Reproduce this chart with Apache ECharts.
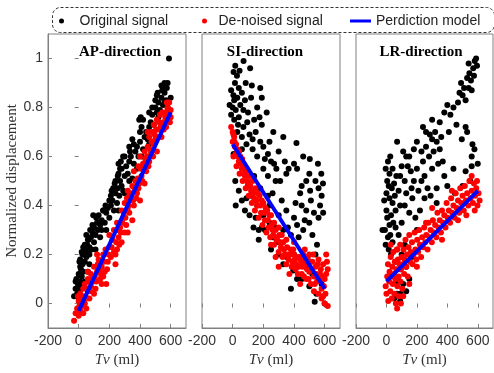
<!DOCTYPE html>
<html>
<head>
<meta charset="utf-8">
<script src="https://cdn.jsdelivr.net/npm/echarts@6/dist/echarts.min.js"></script>
<style>html,body{margin:0;padding:0;background:#fff}#c{width:494px;height:373px}</style>
</head>
<body>
<div id="c"></div>
<script>
// ---------- DATA ----------
const panelTitles = ['AP-direction', 'SI-direction', 'LR-direction'];
const xTickLabels = [-200, 0, 200, 400, 600];
const yTickLabels = [0, 0.2, 0.4, 0.6, 0.8, 1];

const apOriginal = [[-30,0.03],[-20,0.06],[-10,0.04],[-5,0.08],[0,0.02],[5,0.05],[-15,0.1],[0,0.12],[10,0.09],[15,0.14],[20,0.11],[25,0.16],[30,0.13],[10,0.18],[35,0.2],[40,0.17],[45,0.22],[50,0.19],[20,0.21],[55,0.24],[60,0.21],[65,0.26],[70,0.23],[80,0.27],[85,0.22],[90,0.29],[100,0.25],[100,0.31],[110,0.28],[120,0.33],[125,0.3],[130,0.36],[140,0.32],[150,0.34],[160,0.38],[170,0.33],[180,0.37],[190,0.39],[200,0.35],[210,0.4],[220,0.42],[230,0.38],[240,0.45],[250,0.41],[255,0.47],[265,0.44],[270,0.5],[280,0.48],[290,0.46],[300,0.52],[260,0.53],[280,0.55],[310,0.56],[320,0.53],[330,0.58],[340,0.6],[360,0.57],[370,0.62],[380,0.64],[390,0.6],[400,0.66],[420,0.63],[430,0.68],[440,0.7],[450,0.67],[460,0.72],[410,0.72],[420,0.75],[470,0.74],[480,0.77],[490,0.73],[500,0.8],[510,0.78],[520,0.82],[530,0.79],[540,0.84],[550,0.81],[560,0.86],[570,0.83],[575,0.88],[580,0.8],[590,0.78],[545,0.87],[555,0.89],[580,0.9],[589,1.0],[460,0.65],[350,0.51],[230,0.46],[140,0.27],[70,0.16],[30,0.07],
  [0,0.07],[-20,0.09],[10,0.15],[25,0.2],[5,0.17],[40,0.24],[30,0.23],[60,0.26],[50,0.28],[75,0.3],[90,0.32],[70,0.2],[115,0.35],[95,0.36],[160,0.38],[175,0.4],[200,0.42],[215,0.46],[150,0.3],[225,0.47],[235,0.49],[210,0.44],[240,0.5],[255,0.52],[270,0.55],[260,0.57],[275,0.58],[300,0.6],[290,0.6],[330,0.64],[350,0.67],[335,0.62],[360,0.65],[400,0.7],[395,0.75],[405,0.76],[460,0.78],[480,0.8],[500,0.83],[510,0.85],[515,0.86],[540,0.89],[560,0.9],[560,0.82],[600,0.84],[520,0.76],[20,0.01],[40,0.09],[60,0.13],[110,0.22],[180,0.3],[260,0.38],[300,0.45],[330,0.5],[380,0.55],[410,0.6],[470,0.66],[490,0.7]];
const apDenoised = [[-30,-0.07],[-20,-0.04],[-10,-0.02],[0,-0.05],[10,-0.03],[20,-0.01],[30,-0.04],[40,0.0],[50,-0.02],[0,0.01],[10,0.04],[20,0.02],[30,0.06],[45,0.03],[60,0.05],[70,0.02],[80,0.07],[100,0.04],[110,0.06],[40,0.08],[60,0.1],[80,0.12],[95,0.09],[120,0.13],[140,0.1],[150,0.15],[170,0.13],[180,0.08],[100,0.15],[130,0.18],[160,0.2],[190,0.17],[210,0.19],[240,0.16],[200,0.23],[220,0.26],[250,0.22],[260,0.27],[280,0.25],[300,0.29],[230,0.3],[250,0.33],[270,0.31],[290,0.35],[310,0.32],[330,0.37],[350,0.34],[280,0.38],[300,0.41],[320,0.39],[340,0.43],[360,0.4],[380,0.45],[400,0.42],[320,0.46],[350,0.48],[370,0.5],[390,0.47],[410,0.52],[430,0.49],[360,0.54],[390,0.56],[420,0.57],[440,0.54],[460,0.58],[400,0.6],[430,0.62],[450,0.64],[470,0.61],[490,0.65],[510,0.62],[460,0.68],[480,0.7],[500,0.67],[520,0.71],[540,0.68],[490,0.73],[510,0.75],[530,0.77],[550,0.74],[570,0.72],[560,0.78],[580,0.8],[590,0.76],[600,0.79],[575,0.82],[595,0.74],[450,0.7],[330,0.44],[200,0.28],[120,0.2],[60,0.13],[-5,0.03],
  [5,-0.01],[15,0.0],[25,0.03],[35,0.01],[55,0.06],[65,0.09],[75,0.05],[90,0.1],[105,0.11],[115,0.09],[125,0.16],[135,0.14],[145,0.12],[165,0.17],[175,0.22],[185,0.14],[195,0.2],[215,0.23],[230,0.21],[245,0.25],[255,0.3],[265,0.24],[275,0.29],[285,0.33],[295,0.37],[305,0.35],[315,0.43],[325,0.4],[345,0.45],[355,0.42],[365,0.47],[375,0.43],[385,0.51],[395,0.49],[405,0.55],[415,0.5],[425,0.55],[435,0.59],[445,0.6],[455,0.56],[465,0.63],[475,0.66],[485,0.6],[495,0.69],[505,0.71],[515,0.68],[525,0.74],[535,0.72],[545,0.78],[555,0.71],[565,0.76],[585,0.78],[590,0.82],[600,0.76],[150,0.08],[240,0.2],[160,0.11],[320,0.29]];
const apModel = [[0,-0.03],[600,0.78]];

const siOriginal = [[71,0.99],[17,0.97],[6,0.945],[28,0.93],[114,0.96],[45,0.95],[15,0.9],[40,0.88],[-10,0.87],[5,0.85],[30,0.84],[60,0.86],[80,0.83],[-20,0.81],[0,0.8],[20,0.79],[50,0.81],[120,0.84],[180,0.88],[190,0.84],[-10,0.77],[10,0.75],[40,0.76],[100,0.78],[160,0.8],[222,0.78],[140,0.75],[70,0.72],[30,0.7],[60,0.68],[110,0.69],[150,0.7],[190,0.73],[265,0.7],[90,0.65],[130,0.63],[180,0.66],[200,0.64],[230,0.61],[330,0.68],[416,0.655],[160,0.6],[250,0.58],[300,0.62],[270,0.57],[200,0.55],[6,0.61],[230,0.52],[280,0.5],[310,0.5],[350,0.53],[400,0.57],[460,0.6],[503,0.59],[420,0.55],[556,0.57],[578,0.53],[589,0.49],[450,0.48],[480,0.5],[500,0.53],[540,0.5],[560,0.47],[580,0.44],[450,0.4],[480,0.38],[510,0.42],[530,0.37],[560,0.35],[400,0.35],[350,0.38],[320,0.42],[260,0.45],[180,0.47],[140,0.52],[17,0.5],[100,0.48],[60,0.42],[20,0.4],[80,0.38],[150,0.35],[200,0.36],[240,0.4],[280,0.31],[330,0.3],[380,0.28],[420,0.32],[460,0.3],[520,0.28],[550,0.24],[136,0.31],[190,0.31],[170,0.26],[210,0.3],[260,0.27],[300,0.2],[352,0.19],[400,0.2],[330,0.16],[395,0.135],[450,0.1],[500,0.07],[546,0.04],[535,0.007],[600,0.0],[520,0.12],[580,0.08],[250,0.22],[120,0.44],
  [85,0.9],[125,0.89],[10,0.83],[70,0.79],[35,0.73],[95,0.74],[175,0.76],[240,0.66],[130,0.67],[60,0.63],[210,0.59],[285,0.55],[340,0.58],[365,0.55],[440,0.45],[505,0.46],[570,0.4],[590,0.37],[470,0.34],[410,0.41],[300,0.36],[230,0.44],[160,0.4],[90,0.43],[40,0.46],[110,0.36],[170,0.3],[240,0.33],[300,0.25],[360,0.31],[430,0.27],[500,0.33],[540,0.2],[480,0.16],[420,0.1],[380,0.06],[560,0.1]];
const siDenoised = [[-10,0.72],[0,0.7],[10,0.68],[0,0.66],[15,0.64],[20,0.61],[5,0.6],[30,0.63],[40,0.58],[25,0.56],[50,0.6],[60,0.55],[45,0.53],[70,0.57],[80,0.52],[65,0.5],[90,0.54],[100,0.49],[85,0.47],[110,0.52],[120,0.46],[105,0.44],[130,0.5],[140,0.43],[125,0.41],[150,0.47],[160,0.4],[145,0.38],[175,0.44],[185,0.37],[170,0.35],[200,0.41],[210,0.34],[195,0.32],[225,0.38],[235,0.31],[220,0.29],[250,0.36],[260,0.3],[245,0.27],[270,0.33],[285,0.26],[270,0.24],[300,0.31],[310,0.25],[300,0.21],[320,0.28],[335,0.22],[325,0.19],[350,0.26],[360,0.2],[350,0.16],[380,0.22],[390,0.17],[400,0.2],[410,0.14],[420,0.19],[430,0.15],[440,0.18],[450,0.12],[460,0.2],[470,0.16],[480,0.1],[490,0.19],[500,0.13],[510,0.08],[520,0.17],[530,0.11],[540,0.15],[550,0.09],[560,0.18],[570,0.12],[580,0.06],[590,0.16],[600,0.1],[610,0.2],[620,0.14],[560,0.04],[580,0.02],[600,0.0],[620,-0.01],[530,0.05],[450,0.17],[470,0.22],[400,0.25],[370,0.12],[440,0.08],[500,0.2],
  [5,0.69],[12,0.66],[22,0.65],[35,0.6],[42,0.62],[55,0.57],[62,0.59],[75,0.53],[82,0.55],[95,0.5],[115,0.48],[135,0.45],[155,0.42],[165,0.45],[180,0.4],[190,0.42],[205,0.37],[215,0.39],[230,0.34],[240,0.36],[255,0.32],[265,0.28],[280,0.3],[290,0.27],[305,0.28],[315,0.23],[330,0.25],[340,0.2],[355,0.23],[365,0.18],[375,0.2],[385,0.15],[395,0.22],[405,0.18],[415,0.16],[425,0.12],[435,0.19],[455,0.15],[465,0.11],[475,0.18],[485,0.14],[495,0.1],[505,0.17],[515,0.14],[525,0.2],[535,0.08],[545,0.12],[555,0.16],[565,0.1],[575,0.14],[585,0.11],[595,0.07],[605,0.04],[590,0.03],[610,0.12],[615,0.17],[300,0.15],[280,0.19],[250,0.24]];
const siModel = [[0,0.65],[600,0.06]];

const lrOriginal = [[589,1.0],[540,0.98],[595,0.97],[570,0.96],[575,0.93],[555,0.91],[530,0.92],[540,0.88],[560,0.87],[500,0.85],[520,0.83],[480,0.86],[470,0.82],[440,0.8],[400,0.81],[380,0.78],[300,0.75],[320,0.7],[240,0.72],[520,0.72],[530,0.7],[410,0.7],[360,0.68],[330,0.66],[300,0.67],[260,0.64],[230,0.62],[200,0.66],[180,0.63],[130,0.6],[70,0.66],[100,0.56],[140,0.56],[160,0.54],[200,0.55],[240,0.58],[280,0.6],[310,0.62],[350,0.63],[370,0.58],[250,0.52],[180,0.5],[120,0.5],[90,0.52],[40,0.55],[10,0.58],[20,0.53],[5,0.5],[50,0.49],[80,0.46],[130,0.45],[170,0.43],[210,0.46],[250,0.43],[290,0.44],[330,0.47],[520,0.54],[560,0.56],[500,0.48],[550,0.5],[0,0.45],[20,0.43],[40,0.41],[60,0.38],[30,0.36],[0,0.38],[90,0.4],[150,0.37],[190,0.35],[100,0.33],[60,0.31],[20,0.32],[-10,0.3],[-26,0.3],[10,0.27],[40,0.25],[80,0.28],[120,0.24],[30,0.2],[60,0.17],[90,0.14],[110,0.08],[70,0.04],[93,0.04],[50,0.02],[90,0.01],[150,0.1],[130,0.15],[220,0.38],[380,0.52],[450,0.45],
  [-5,0.55],[15,0.48],[25,0.6],[-15,0.42],[5,0.35],[35,0.47],[55,0.44],[45,0.33],[25,0.28],[-5,0.24],[15,0.22],[65,0.52],[110,0.62],[150,0.6],[120,0.4],[165,0.47],[230,0.5],[270,0.47],[300,0.55],[340,0.57],[260,0.7],[285,0.69],[350,0.74],[420,0.77],[460,0.73],[490,0.9],[510,0.88],[545,0.94],[580,0.99],[495,0.67],[560,0.6],[565,0.65],[578,0.63],[600,0.57],[440,0.55],[400,0.48],[330,0.41],[75,0.09],[130,0.05],[100,0.2],[165,0.19],[200,0.3]];
const lrDenoised = [[0,0.04],[5,0.11],[-5,0.07],[10,0.16],[12,0.01],[18,0.09],[20,0.13],[25,0.05],[28,0.19],[30,0.11],[35,0.02],[38,0.15],[42,0.08],[45,0.21],[48,0.12],[52,0.04],[55,0.17],[58,0.1],[62,0.0],[65,0.14],[68,0.22],[72,0.07],[75,0.18],[80,0.11],[82,0.03],[86,0.16],[90,0.24],[92,0.09],[96,0.14],[100,0.19],[104,0.06],[108,0.16],[112,0.22],[116,0.12],[120,0.18],[125,0.26],[130,0.15],[135,0.2],[140,0.11],[145,0.23],[150,0.28],[155,0.17],[160,0.21],[168,0.25],[172,0.16],[178,0.2],[185,0.29],[190,0.22],[196,0.18],[202,0.26],[208,0.21],[215,0.3],[220,0.24],[228,0.19],[235,0.27],[240,0.23],[248,0.31],[255,0.25],[262,0.28],[270,0.22],[276,0.33],[284,0.27],[290,0.3],[298,0.25],[305,0.34],[312,0.29],[320,0.32],[328,0.27],[335,0.37],[342,0.31],[350,0.34],[358,0.29],[365,0.38],[372,0.33],[380,0.36],[388,0.31],[395,0.41],[402,0.35],[410,0.38],[418,0.33],[425,0.43],[432,0.37],[440,0.4],[448,0.35],[455,0.45],[462,0.39],[470,0.42],[478,0.37],[485,0.47],[492,0.41],[500,0.44],[508,0.38],[515,0.48],[522,0.42],[530,0.45],[538,0.4],[545,0.5],[552,0.43],[560,0.46],[568,0.41],[575,0.49],[582,0.44],[590,0.47],[598,0.4],[605,0.45],[612,0.42],[595,0.5],[580,0.38],[560,0.52],[525,0.36],[470,0.34],[430,0.46],[300,0.39],[150,0.08],[95,0.0],[70,-0.02],[110,0.03],[200,0.15],[260,0.33],[365,0.26],[28,0.24],[71,0.22]];
const lrModel = [[0,0.09],[600,0.46]];

const originalSets = [apOriginal, siOriginal, lrOriginal];
const denoisedSets = [apDenoised, siDenoised, lrDenoised];
const modelSets = [apModel, siModel, lrModel];

// ---------- CHART ----------
const chart = echarts.init(document.getElementById('c'), null, {renderer: 'canvas'});
const SANS = '"Liberation Sans", Arial, sans-serif';
const SERIF = '"Liberation Serif", "Times New Roman", serif';
const AXC = '#808080';
const TXC = '#333333';
const gridLefts = [48, 202, 356];
const gridWidths = [138, 138, 137];

const grids = gridLefts.map((l, i) => ({
  left: l, top: 34, width: gridWidths[i], height: 295,
  show: true, borderColor: AXC, borderWidth: 1, backgroundColor: 'transparent'
}));

const xAxes = [];
const yAxes = [];
for (let i = 0; i < 3; i++) {
  xAxes.push({
    type: 'value', gridIndex: i, position: 'bottom', min: -200, max: 700,
    axisLine: {show: true, onZero: false, lineStyle: {color: AXC}},
    axisTick: {show: true, inside: true, length: 4, lineStyle: {color: AXC}, customValues: xTickLabels},
    axisLabel: {show: true, customValues: xTickLabels, color: TXC, fontFamily: SANS, fontSize: 14, margin: 6,
      formatter: v => String(v), hideOverlap: false, showMinLabel: true, showMaxLabel: true},
    splitLine: {show: false},
    name: '{i|Tv} (ml)', nameLocation: 'middle', nameGap: 25,
    nameTextStyle: {fontFamily: SERIF, fontSize: 15, color: TXC,
      rich: {i: {fontFamily: SERIF, fontSize: 15, fontStyle: 'italic', color: TXC}}}
  });
}
for (let i = 0; i < 3; i++) {
  xAxes.push({
    type: 'value', gridIndex: i, position: 'top', min: -200, max: 700,
    axisLine: {show: false},
    axisTick: {show: true, inside: true, length: 4, lineStyle: {color: AXC}, customValues: xTickLabels},
    axisLabel: {show: false}, splitLine: {show: false}
  });
}
for (let i = 0; i < 3; i++) {
  yAxes.push({
    type: 'value', gridIndex: i, position: 'left', min: -0.1, max: 1.1,
    axisLine: {show: i === 0, onZero: false, lineStyle: {color: AXC}},
    axisTick: {show: i === 0, inside: true, length: 4, lineStyle: {color: AXC}, customValues: yTickLabels},
    axisLabel: {show: i === 0, customValues: yTickLabels, color: TXC, fontFamily: SANS, fontSize: 14, margin: 5,
      formatter: v => String(v)},
    splitLine: {show: false},
    name: i === 0 ? 'Normalized displacement' : '', nameLocation: 'middle', nameGap: 23,
    nameTextStyle: {fontFamily: SERIF, fontSize: 15, color: TXC}
  });
}
yAxes.push({
  type: 'value', gridIndex: 0, position: 'right', min: -0.1, max: 1.1,
  axisLine: {show: false},
  axisTick: {show: true, inside: true, length: 4, lineStyle: {color: AXC}, customValues: yTickLabels},
  axisLabel: {show: false}, splitLine: {show: false}
});

const series = [];
for (let i = 0; i < 3; i++) {
  series.push({
    name: 'Original signal', type: 'scatter', xAxisIndex: i, yAxisIndex: i,
    data: originalSets[i], symbol: 'circle', symbolSize: 6,
    itemStyle: {color: '#000000', opacity: 1}, silent: true, z: 2
  });
  series.push({
    name: 'De-noised signal', type: 'scatter', xAxisIndex: i, yAxisIndex: i,
    data: denoisedSets[i], symbol: 'circle', symbolSize: 6,
    itemStyle: {color: '#ff0000', opacity: 1}, silent: true, z: 3
  });
  series.push({
    name: 'Perdiction model', type: 'line', xAxisIndex: i, yAxisIndex: i,
    data: modelSets[i], showSymbol: false, symbol: 'none',
    lineStyle: {color: '#0000ff', width: 4}, itemStyle: {color: '#0000ff'}, z: 4
  });
}

const legendText = {fontFamily: SANS, fontSize: 14, color: '#222'};
const legends = [
  {left: 54, top: 9, itemWidth: 26, itemHeight: 5, itemGap: 0, textStyle: legendText,
   data: [{name: 'Original signal', icon: 'circle', itemStyle: {color: '#000'}}], selectedMode: false},
  {left: 197, top: 9, itemWidth: 18, itemHeight: 5, itemGap: 0, textStyle: legendText,
   data: [{name: 'De-noised signal', icon: 'circle', itemStyle: {color: '#ff0000'}}], selectedMode: false},
  {left: 345, top: 9, itemWidth: 21, itemHeight: 3, itemGap: 0, textStyle: legendText,
   data: [{name: 'Perdiction model', icon: 'rect', itemStyle: {color: '#0000ff'}}], selectedMode: false}
];

const titleX = [120, 265, 421];
const graphics = [
  {type: 'rect', left: 50, top: 5, shape: {width: 442, height: 25, r: 8},
   style: {fill: 'none', stroke: '#333', lineWidth: 1, lineDash: [3, 2]}, silent: true, z: 0}
];
panelTitles.forEach((t, i) => {
  graphics.push({type: 'text', x: titleX[i], y: 52,
    style: {text: t, textAlign: 'center', textVerticalAlign: 'middle',
      font: 'bold 15px "Liberation Serif", "Times New Roman", serif', fill: '#000'}, z: 10});
});

chart.setOption({
  animation: false,
  backgroundColor: '#ffffff',
  grid: grids, xAxis: xAxes, yAxis: yAxes,
  legend: legends, series: series, graphic: graphics
});
</script>
</body>
</html>
